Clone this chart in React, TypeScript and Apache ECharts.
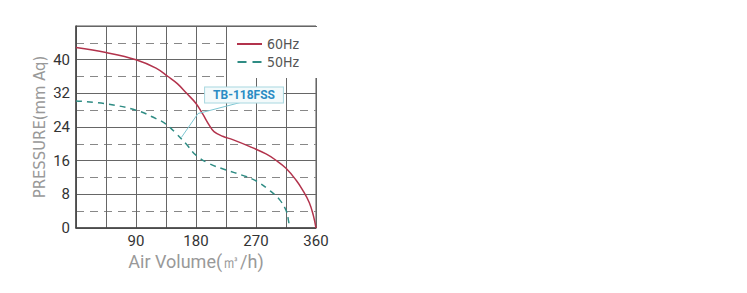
import React, { useEffect, useRef } from "react";
import * as echarts from "echarts";

const xTicks = [0, 45, 90, 135, 180, 225, 270, 315, 360];
const yLabelLevels = [0, 8, 16, 24, 32, 40];
const hz60: [number, number][] = [
  [0, 42.9], [45, 41.7], [90, 40], [120, 38], [138, 36], [152, 34.3], [166, 32],
  [180, 29.6], [190, 27.1], [200, 24.4], [207, 22.9], [220, 21.8], [235, 21], [260, 19.4],
  [285, 17.6], [300, 16.1], [315, 14.2], [330, 11.4], [340, 9], [350, 6], [356, 3], [360, 0],
];
const hz50: [number, number][] = [
  [0, 30.2], [45, 29.5], [90, 28], [120, 26], [135, 24.7], [150, 22.5], [165, 20],
  [180, 17.3], [200, 15.3], [225, 13.8], [250, 12.5], [270, 11.2], [290, 9], [305, 6.8],
  [315, 4.2], [319, 1.5], [320, 0],
];
const modelName = "TB-118FSS";
const labelAnchor: [number, number] = [252, 31.6];
const leaderLines: [number, number][][] = [
  [[246, 29.8], [183, 27.2]],
  [[183, 27.2], [158, 21.5]],
];

export default function App() {
  const ref = useRef<HTMLDivElement>(null);
  useEffect(() => {
    if (!ref.current) return;
    const chart = echarts.init(ref.current, undefined, { renderer: "svg" });
    const font = "Roboto, Arial, sans-serif";
    const narrow = "'Liberation Sans Narrow', 'DejaVu Sans Condensed', Roboto, sans-serif";
    chart.setOption({
      animation: false,
      textStyle: { fontFamily: font },
      grid: { left: 76, right: 431, top: 26, bottom: 65, show: true, borderColor: "#555", borderWidth: 1, backgroundColor: "transparent" },
      legend: {
        orient: "vertical",
        left: 227,
        top: 27,
        padding: [10, 20, 9, 10],
        backgroundColor: "#fff",
        itemWidth: 25,
        itemHeight: 2,
        itemGap: 4,
        textStyle: { fontSize: 14, color: "#555", fontFamily: narrow },
        data: [
          { name: "60Hz", icon: "path://M0,0H25V2H0Z" },
          { name: "50Hz", icon: "path://M0,0H9V2H0Z M15,0H24V2H15Z" },
        ],
      },
      xAxis: {
        type: "value",
        min: 0,
        max: 360,
        interval: 45,
        axisLine: { show: true, lineStyle: { color: "#444", width: 1.5 } },
        axisTick: { show: false },
        splitLine: { show: true, lineStyle: { color: "#666", width: 1 } },
        axisLabel: {
          fontSize: 15,
          color: "#333",
          margin: 5,
          formatter: (v: number) => (v !== 0 && v % 90 === 0 ? String(v) : ""),
        },
        name: "Air Volume(㎥/h)",
        nameLocation: "middle",
        nameGap: 23,
        nameTextStyle: { fontSize: 18, color: "#999", fontFamily: font },
      },
      yAxis: [
        {
          type: "value",
          min: 0,
          max: 48,
          interval: 8,
          axisLine: { show: true, lineStyle: { color: "#444", width: 1.5 } },
          axisTick: { show: false },
          splitLine: { show: true, lineStyle: { color: "#666", width: 1 } },
          axisLabel: {
            fontSize: 15,
            color: "#333",
            margin: 6,
            formatter: (v: number) => (yLabelLevels.includes(v) ? String(v) : ""),
          },
          name: "PRESSURE(mm Aq)",
          nameLocation: "middle",
          nameGap: 28,
          nameTextStyle: { fontSize: 16.5, color: "#999", fontFamily: narrow },
        },
        {
          type: "value",
          min: 0,
          max: 48,
          interval: 4,
          position: "left",
          axisLine: { show: false },
          axisTick: { show: false },
          axisLabel: { show: false },
          splitLine: {
            show: true,
            lineStyle: { color: ["rgba(0,0,0,0)", "#888"], width: 1, type: [8, 6] },
          },
        },
      ],
      series: [
        {
          name: "60Hz",
          type: "line",
          smooth: 0.4,
          symbol: "none",
          data: hz60,
          lineStyle: { color: "#b2334c", width: 1.5 },
          itemStyle: { color: "#b2334c" },
          markLine: {
            silent: true,
            symbol: "none",
            label: { show: false },
            lineStyle: { color: "#7cc6d2", width: 1, type: "solid" },
            data: leaderLines.map((seg) => seg.map((c) => ({ coord: c }))),
          },
          markPoint: {
            silent: true,
            symbol: "rect",
            symbolSize: 0,
            data: [{ coord: labelAnchor }],
            label: {
              show: true,
              position: "inside",
              formatter: modelName,
              color: "#2a8cc4",
              fontWeight: "bold",
              fontSize: 12,
              fontFamily: font,
              backgroundColor: "#f3fafb",
              borderColor: "#a8d8e0",
              borderWidth: 1,
              padding: [2, 8, 1, 8],
            },
          },
        },
        {
          name: "50Hz",
          type: "line",
          smooth: 0.4,
          symbol: "none",
          data: hz50,
          lineStyle: { color: "#2f8c84", width: 1.5, type: [6, 5] },
          itemStyle: { color: "#2f8c84" },
        },
      ],
    });
    return () => chart.dispose();
  }, []);
  return <div ref={ref} style={{ position: "absolute", left: 0, top: 0, width: 747, height: 293 }} />;
}
